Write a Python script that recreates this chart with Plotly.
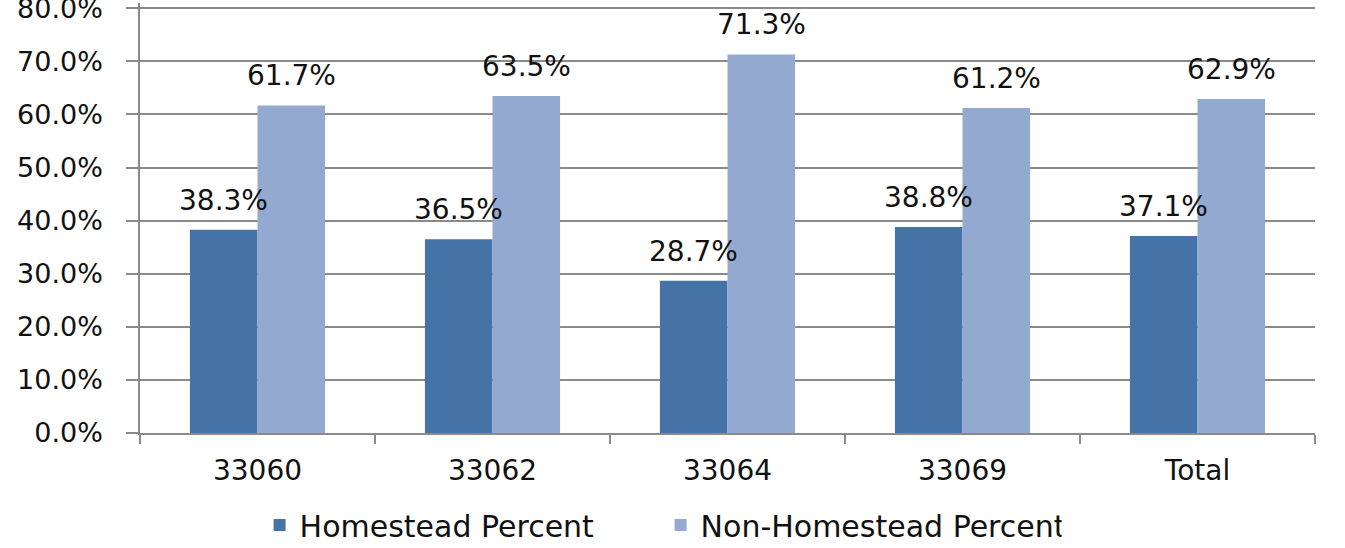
import plotly.graph_objects as go

categories = ["33060", "33062", "33064", "33069", "Total"]
homestead = [0.383, 0.365, 0.287, 0.388, 0.371]
non_homestead = [0.617, 0.635, 0.713, 0.612, 0.629]
series_names = ["Homestead Percent", "Non-Homestead Percent"]
colors = ["#4673A7", "#94A9D0"]

FONT = "DejaVu Sans"
TXT = "#111111"
GRID = "#8a8a8a"
bargap = 0.425

fig = go.Figure()
for name, vals, col in zip(series_names, [homestead, non_homestead], colors):
    fig.add_trace(go.Bar(x=categories, y=vals, name=name, marker_color=col,
                         marker_line_width=0))

# data labels
half = (1 - bargap) / 4
annotations = []
for si, vals in enumerate([homestead, non_homestead]):
    off = -half if si == 0 else half
    for ci, v in enumerate(vals):
        annotations.append(dict(x=ci + off, y=v, xref="x", yref="y",
                                text=f"{v*100:.1f}%", showarrow=False,
                                yanchor="bottom", yshift=11,
                                font=dict(family=FONT, size=28, color=TXT)))

fig.update_layout(
    width=1345, height=548,
    margin=dict(l=140, r=30, t=2.7, b=115, autoexpand=False),
    paper_bgcolor="white", plot_bgcolor="white",
    barmode="group", bargap=bargap, bargroupgap=0,
    font=dict(family=FONT, size=27, color=TXT),
    annotations=annotations,
    legend=dict(orientation="h", xref="container", x=0.193, xanchor="left",
                yref="container", y=0.042, yanchor="middle",
                font=dict(family=FONT, size=30, color=TXT),
                entrywidth=356, traceorder="normal"),
    showlegend=True,
)
fig.update_xaxes(type="category", showline=True, linecolor=GRID, linewidth=1.5,
                 ticks="outside", tickson="boundaries", ticklen=9, tickcolor=GRID,
                 tickwidth=1.5, showgrid=False, ticklabelstandoff=12, automargin=False,
                 tickfont=dict(family=FONT, size=28, color=TXT))
fig.update_yaxes(range=[0, 0.81], dtick=0.1, tick0=0, tickformat=".1%",
                 showline=True, linecolor=GRID, linewidth=1.5,
                 showgrid=True, gridcolor=GRID, gridwidth=1.5,
                 ticks="outside", ticklen=12, tickcolor=GRID, tickwidth=1.5,
                 ticklabelstandoff=18, zeroline=False, automargin=False,
                 ticklabeloverflow="allow",
                 tickfont=dict(family=FONT, size=27, color=TXT))

fig.write_html("out.html", config={"displayModeBar": False},
               post_script="document.body.style.margin='0';document.body.style.overflow='hidden';")
